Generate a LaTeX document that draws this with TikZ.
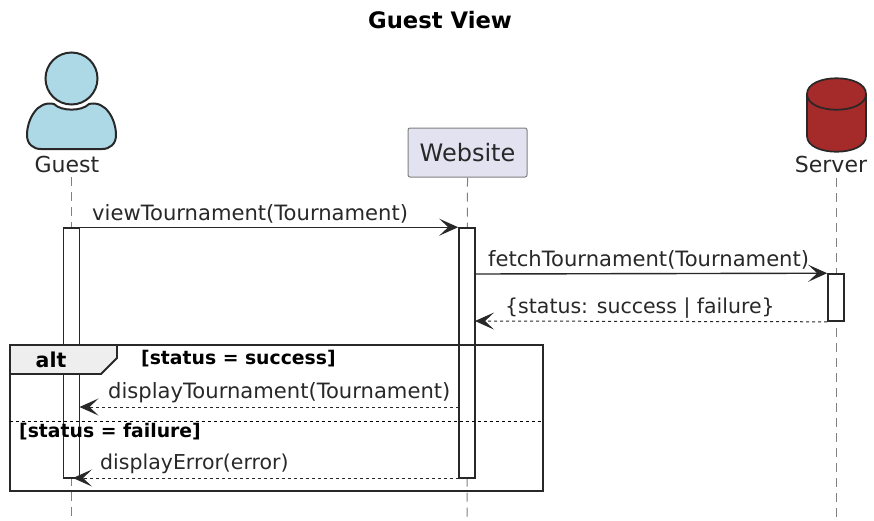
\documentclass[tikz,border=0pt]{standalone}
\usepackage{fontspec}
\setmainfont{DejaVu Sans}
\usetikzlibrary{arrows.meta, positioning, calc}
\definecolor{guestblue}{RGB}{173, 216, 230}
\definecolor{serverred}{RGB}{165, 42, 42}
\definecolor{boxlilac}{RGB}{226, 226, 240}
\definecolor{linedark}{RGB}{40, 40, 40}
\definecolor{tabgrey}{RGB}{238, 238, 238}
\tikzset{
  msgtext/.style={inner sep=0pt, font=\fontsize{21.1}{25}\selectfont, text=linedark},
  msgsmall/.style={inner sep=0pt, font=\fontsize{20.5}{25}\selectfont, text=linedark},
  guardtext/.style={inner sep=0pt, anchor=west, font=\fontsize{18.8}{22}\selectfont\bfseries, text=black},
  actor/.style={inner sep=0pt, font=\fontsize{22}{26}\selectfont, text=linedark},
  lifeline/.style={draw=gray, line width=1pt, dash pattern=on 9pt off 6pt},
  activation/.style={draw=linedark, line width=1.6pt, fill=white, minimum width=16pt, inner sep=0pt},
  call/.style={draw=linedark, line width=1.4pt, -{Stealth[length=19pt, width=17pt, inset=9pt]}},
  reply/.style={draw=linedark, line width=1pt, dash pattern=on 3pt off 3pt, -{Stealth[length=19pt, width=17pt, inset=9pt]}},
}
\begin{document}
\begin{tikzpicture}[x=1pt, y=-1pt]
  \useasboundingbox (0,0) rectangle (874,520);
  \node[inner sep=0pt, font=\fontsize{22.7}{27}\selectfont\bfseries] (title) at (440,20) {Guest View};

  % lifelines
  \node[actor] (guest) at (67,164) {Guest};
  \node[draw=gray, line width=1pt, fill=boxlilac, rounded corners=2pt, minimum width=119pt, minimum height=49pt, inner sep=0pt, font=\fontsize{24}{28}\selectfont, text=linedark] (website) at (467.5,152.5) {Website};
  \node[actor] (server) at (831,164) {Server};
  \coordinate (guestend) at (71.5,520);
  \coordinate (webend) at (467,520);
  \coordinate (serverend) at (836,520);
  \draw[lifeline] (71.5,177) -- (guestend);
  \draw[lifeline] (website.south) -- (webend);
  \draw[lifeline] (836,178) -- (serverend);

  % actor figure
  \draw[fill=guestblue, draw=linedark, line width=2pt] (71.5,78.5) circle (26);
  \draw[fill=guestblue, draw=linedark, line width=2pt] (54,104) .. controls (61,111.5) and (82,111.5) .. (89,104)
    .. controls (106,100) and (116,120) .. (116,135)
    .. controls (116,144) and (110,149) .. (102,149) -- (41,149)
    .. controls (33,149) and (27,144) .. (27,135)
    .. controls (27,120) and (37,100) .. (54,104) -- cycle;

  % database figure
  \draw[fill=serverred, draw=linedark, line width=1.7pt] (807,94) .. controls (807,73) and (866,73) .. (866,94)
    -- (866,136) .. controls (866,157) and (807,157) .. (807,136) -- cycle;
  \draw[draw=linedark, line width=1.7pt] (807,94) .. controls (807,115) and (866,115) .. (866,94);

  % activations
  \node[activation, minimum height=250pt] (guestbar) at (71.5,353) {};
  \node[activation, minimum height=250pt] (webbar) at (467,353) {};
  \node[activation, minimum height=47pt] (serverbar) at (836,297.5) {};

  % messages
  \coordinate (viewfrom) at (guestbar.north east);
  \coordinate (viewto) at (webbar.north west);
  \draw[call] (viewfrom) -- (viewto);
  \node[msgtext, anchor=base west] (viewmsg) at (92,220) {viewTournament(Tournament)};

  \coordinate (fetchfrom) at (475,274);
  \draw[call] (fetchfrom) -- (serverbar.north west);
  \node[msgtext, anchor=base west] (fetchmsg) at (488,266) {fetchTournament(Tournament)};

  \coordinate (statusto) at (475,321);
  \draw[reply] (serverbar.south west) -- (statusto);
  \node[msgsmall, anchor=base west] (statusmsg) at (505,313) {\{status: success | failure\}};

  % alt frame
  \coordinate (shownfrom) at (459,407);
  \coordinate (shownto) at (79.5,407);
  \draw[reply] (shownfrom) -- (shownto);
  \node[msgtext, anchor=base west] (shownmsg) at (108,398) {displayTournament(Tournament)};

  \coordinate (errfrom) at (459,478);
  \coordinate (errto) at (73,478);
  \draw[reply] (errfrom) -- (errto);
  \node[msgsmall, anchor=base west] (errmsg) at (100,469) {displayError(error)};

  \draw[draw=linedark, line width=2.6pt] (10,345) rectangle (543,491);
  \draw[draw=linedark, line width=1.8pt, fill=tabgrey] (10,345) -- (117,345) -- (117,358) -- (101,374) -- (10,374) -- cycle;
  \node[inner sep=0pt, font=\fontsize{20.5}{24}\selectfont\bfseries] (altlabel) at (51,359.5) {alt};
  \node[guardtext] (okguard) at (141,359) {[status = success]};
  \draw[draw=black, line width=1pt, dash pattern=on 3pt off 3pt] (10,421) -- (543,421);
  \node[guardtext] (failguard) at (19,432) {[status = failure]};
\end{tikzpicture}
\end{document}
